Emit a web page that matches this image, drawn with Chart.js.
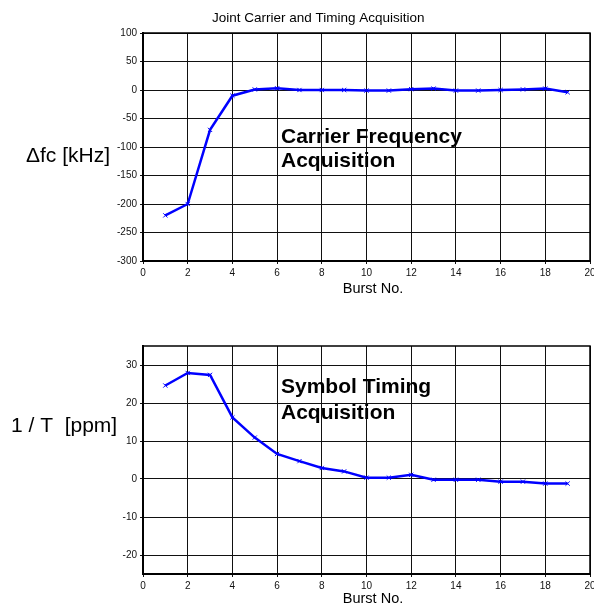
<!DOCTYPE html>
<html><head><meta charset="utf-8">
<script src="https://cdn.jsdelivr.net/npm/chart.js@4"></script>
<style>
html,body{margin:0;padding:0;background:#fff;width:594px;height:610px;overflow:hidden}
.w{position:absolute;left:0;width:594px;height:305px}
</style></head><body>
<div class="w" style="top:0"><canvas id="c1"></canvas></div>
<div class="w" style="top:305px"><canvas id="c2"></canvas></div>
<script>
// ---- data ----
const bursts = [1,2,3,4,5,6,7,8,9,10,11,12,13,14,15,16,17,18,19];
const carrierFreqKHz = [-220,-200,-70,-10,1,3,0,0,0,-1,-1,1.5,2.5,-1,-1,0,1,2.5,-4];
const symbolTimingPpm = [24.6,27.9,27.4,16.2,10.9,6.6,4.7,2.9,2.0,0.35,0.35,1.1,-0.2,-0.2,-0.2,-0.7,-0.7,-1.2,-1.2];
const xTickValues = [0,2,4,6,8,10,12,14,16,18,20];
const yTicksCarrier = [-300,-250,-200,-150,-100,-50,0,50,100];
const yTicksTiming = [-20,-10,0,10,20,30];
const mainTitle = 'Joint Carrier and Timing Acquisition';
const xTitle = 'Burst No.';
const yTitleCarrier = 'Δfc [kHz]';
const yTitleTiming = '1 / T  [ppm]';
const noteCarrier = ['Carrier Frequency','Acquisition'];
const noteTiming = ['Symbol Timing','Acquisition'];

const FONT = '"Liberation Sans", Arial, sans-serif';

const decor = {
  id:'decor',
  afterDraw(chart, args, opts){
    const ctx = chart.ctx, a = chart.chartArea;
    ctx.save();
    ctx.strokeStyle = '#000';
    ctx.lineWidth = 1.5;
    ctx.strokeRect(a.left, a.top, a.right - a.left, a.bottom - a.top);
    ctx.fillStyle = '#000';
    ctx.textBaseline = 'alphabetic';
    (opts.texts || []).forEach(t => {
      ctx.font = t.font;
      ctx.textAlign = t.align || 'left';
      ctx.fillText(t.text, t.x, t.y);
    });
    ctx.restore();
  }
};

function makeChart(id, values, yTicks, ymin, ymax, xAxisH, padTop, texts){
  return new Chart(document.getElementById(id), {
    type:'line',
    data:{datasets:[{
      data: bursts.map((b,i)=>({x:b, y:values[i]})),
      borderColor:'#0000ff', backgroundColor:'#0000ff',
      borderWidth:2.5, tension:0,
      pointStyle:'crossRot', pointRadius:3, pointBorderWidth:1,
      pointBorderColor:'#0000ff', pointHoverRadius:3
    }]},
    options:{
      responsive:true, maintainAspectRatio:false, animation:false, devicePixelRatio:1,
      layout:{padding:{top:padTop, right:3, left:0, bottom:0}},
      plugins:{legend:{display:false}, title:{display:false}, tooltip:{enabled:false}, decor:{texts}},
      scales:{
        x:{type:'linear', min:0, max:20,
          afterBuildTicks:s=>{s.ticks = xTickValues.map(v=>({value:v}));},
          afterFit:s=>{s.height = xAxisH; s.paddingLeft = 0; s.paddingRight = 0;},
          ticks:{font:{family:FONT, size:10}, color:'#111', padding:3, maxRotation:0, autoSkip:false},
          grid:{color:'#111', lineWidth:1, tickLength:3},
          border:{color:'#000', width:2}
        },
        y:{type:'linear', min:ymin, max:ymax,
          afterBuildTicks:s=>{s.ticks = yTicks.map(v=>({value:v}));},
          afterFit:s=>{s.width = 143; s.paddingTop = 0; s.paddingBottom = 0;},
          ticks:{font:{family:FONT, size:10}, color:'#111', padding:3, autoSkip:false},
          grid:{color:'#111', lineWidth:1, tickLength:3},
          border:{color:'#000', width:2}
        }
      }
    },
    plugins:[decor]
  });
}

makeChart('c1', carrierFreqKHz, yTicksCarrier, -300, 100, 44, 33, [
  {text:mainTitle, x:212, y:22, font:'13.5px '+FONT},
  {text:yTitleCarrier, x:26, y:162, font:'21px '+FONT},
  {text:noteCarrier[0], x:281, y:143, font:'bold 21px '+FONT},
  {text:noteCarrier[1], x:281, y:167, font:'bold 21px '+FONT},
  {text:xTitle, x:373, y:293, font:'14.5px '+FONT, align:'center'}
]);
makeChart('c2', symbolTimingPpm, yTicksTiming, -25, 35, 36, 41, [
  {text:yTitleTiming, x:11, y:127, font:'21px '+FONT},
  {text:noteTiming[0], x:281, y:88, font:'bold 21px '+FONT},
  {text:noteTiming[1], x:281, y:114, font:'bold 21px '+FONT},
  {text:xTitle, x:373, y:298, font:'14.5px '+FONT, align:'center'}
]);
</script>
</body></html>
